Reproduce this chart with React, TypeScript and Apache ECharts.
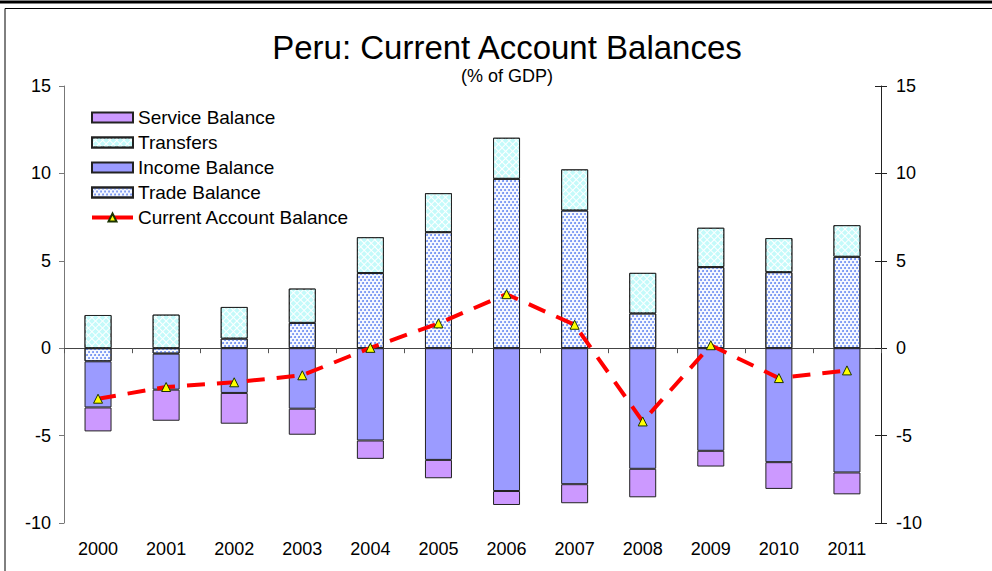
import React, { useEffect, useRef } from "react";
import * as echarts from "echarts";

const years = ["2000", "2001", "2002", "2003", "2004", "2005", "2006", "2007", "2008", "2009", "2010", "2011"];
const tradeBalance = [-0.75, -0.31, 0.55, 1.45, 4.3, 6.64, 9.69, 7.88, 1.99, 4.64, 4.35, 5.23];
const transfers = [1.9, 1.92, 1.81, 1.96, 2.05, 2.23, 2.35, 2.35, 2.32, 2.25, 1.95, 1.81];
const incomeBalance = [-2.64, -2.06, -2.56, -3.46, -5.28, -6.39, -8.17, -7.78, -6.9, -5.87, -6.52, -7.11];
const serviceBalance = [-1.37, -1.78, -1.76, -1.49, -1.05, -1.05, -0.8, -1.09, -1.63, -0.9, -1.53, -1.25];
const currentAccount = [-2.89, -2.22, -1.95, -1.55, 0.02, 1.42, 3.09, 1.34, -4.19, 0.17, -1.71, -1.27];
const legendOrder = ["Service Balance", "Transfers", "Income Balance", "Trade Balance", "Current Account Balance"];

const FONT = "'Liberation Sans', Arial, sans-serif";

export default function App() {
  const ref = useRef<HTMLDivElement>(null);
  useEffect(() => {
    if (!ref.current) return;
    const chart = echarts.init(ref.current, null, { renderer: "svg" });
    const barBase = {
      type: "bar",
      stack: "bal",
      barWidth: 27,
      yAxisIndex: 0,
      xAxisIndex: 0,
      emphasis: { disabled: true },
    };
    const border = { borderColor: "#222", borderWidth: 1 };
    const option: any = {
      animation: false,
      textStyle: { fontFamily: FONT },
      graphic: [
        { type: "line", shape: { x1: 0, y1: 2, x2: 992, y2: 2 }, style: { stroke: "#000", lineWidth: 3 } },
        { type: "line", shape: { x1: 5, y1: 8.5, x2: 992, y2: 8.5 }, style: { stroke: "#000", lineWidth: 1 } },
        { type: "line", shape: { x1: 5, y1: 8.5, x2: 5, y2: 571 }, style: { stroke: "#000", lineWidth: 1 } },
        {
          type: "text",
          x: 507,
          y: 47,
          style: { text: "Peru: Current Account Balances", fontSize: 33, fontFamily: FONT, fill: "#000", textAlign: "center", textVerticalAlign: "middle" },
        },
        {
          type: "text",
          x: 507,
          y: 76,
          style: { text: "(% of GDP)", fontSize: 18, fontFamily: FONT, fill: "#000", textAlign: "center", textVerticalAlign: "middle" },
        },
      ],
      legend: {
        orient: "vertical",
        left: 90,
        top: 108,
        padding: 0,
        itemWidth: 41,
        itemHeight: 10,
        itemGap: 6,
        selectedMode: false,
        textStyle: { fontSize: 19, lineHeight: 19, color: "#000", fontFamily: FONT },
        data: legendOrder.map((n) =>
          n === "Current Account Balance"
            ? { name: n, lineStyle: { type: "solid", width: 4, color: "#ff0000" } }
            : { name: n, icon: "rect" }
        ),
      },
      grid: { left: 64, right: 111, top: 86, bottom: 48, containLabel: false },
      xAxis: [
        {
          type: "category",
          data: years,
          position: "bottom",
          axisLine: { show: false, onZero: false },
          axisTick: { show: false },
          axisLabel: { margin: 17, fontSize: 18, color: "#000", fontFamily: FONT },
        },
        {
          type: "category",
          data: years,
          position: "bottom",
          axisLine: { show: true, onZero: true, lineStyle: { color: "#444", width: 1 } },
          axisTick: { show: true, length: 5, lineStyle: { color: "#555" } },
          axisLabel: { show: false },
        },
      ],
      yAxis: [
        {
          type: "value",
          min: -10,
          max: 15,
          interval: 5,
          position: "left",
          splitLine: { show: false },
          axisLine: { show: true, lineStyle: { color: "#777" } },
          axisTick: { show: true, length: 5, lineStyle: { color: "#777" } },
          axisLabel: { margin: 13, fontSize: 18, color: "#000", fontFamily: FONT },
        },
        {
          type: "value",
          min: -10,
          max: 15,
          interval: 5,
          position: "right",
          splitLine: { show: false },
          axisLine: { show: true, lineStyle: { color: "#222" } },
          axisTick: { show: true, length: 6, lineStyle: { color: "#222" } },
          axisLabel: { margin: 15, fontSize: 18, color: "#000", fontFamily: FONT },
        },
        {
          type: "value",
          min: -10,
          max: 15,
          interval: 5,
          position: "right",
          splitLine: { show: false },
          axisLine: { show: false },
          axisTick: { show: true, inside: true, length: 6, lineStyle: { color: "#222" } },
          axisLabel: { show: false },
        },
      ],
      series: [
        {
          ...barBase,
          name: "Trade Balance",
          data: tradeBalance,
          itemStyle: {
            ...border,
            color: "#f5f8ff",
            decal: {
              symbol: "circle",
              symbolSize: 0.9,
              color: "#5a7ef0",
              dashArrayX: [[1.5, 1.5], [0, 1.5, 1.5, 0]],
              dashArrayY: [1.5, 0.7],
            },
          },
        },
        {
          ...barBase,
          name: "Income Balance",
          data: incomeBalance,
          itemStyle: { ...border, color: "#9b9bff" },
        },
        {
          ...barBase,
          name: "Service Balance",
          data: serviceBalance,
          itemStyle: { ...border, color: "#cc99ff" },
        },
        {
          ...barBase,
          name: "Transfers",
          data: transfers,
          itemStyle: {
            ...border,
            color: "#ffffff",
            decal: {
              symbol: "rect",
              symbolSize: 1,
              color: "#c4fafa",
              rotation: Math.PI / 4,
              dashArrayX: [4, 1],
              dashArrayY: [4, 1],
            },
          },
        },
        {
          name: "Current Account Balance",
          type: "line",
          data: currentAccount,
          xAxisIndex: 0,
          yAxisIndex: 0,
          z: 5,
          symbol: "triangle",
          symbolSize: 9,
          emphasis: { disabled: true },
          lineStyle: { color: "#ff0000", width: 4, type: [18, 12] },
          itemStyle: { color: "#ffff00", borderColor: "#1a3300", borderWidth: 1 },
        },
      ],
    };
    chart.setOption(option);
    return () => chart.dispose();
  }, []);
  return (
    <div
      ref={ref}
      style={{ position: "absolute", left: 0, top: 0, width: 992, height: 571, background: "#fff" }}
    />
  );
}
